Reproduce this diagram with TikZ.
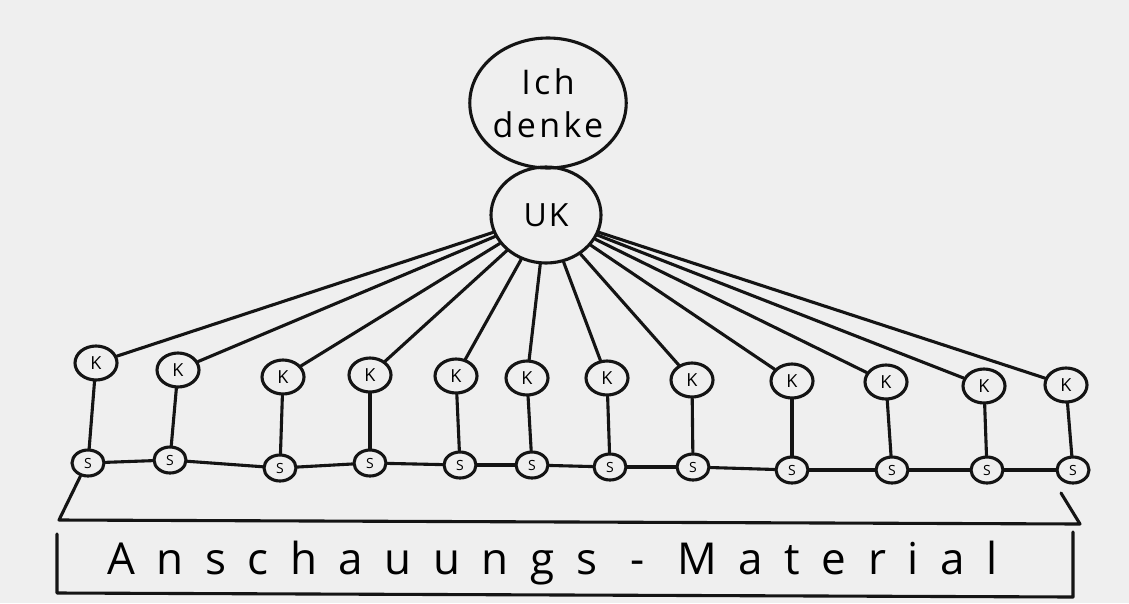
\documentclass[tikz,border=0pt]{standalone}
\usepackage{fontspec}
\setmainfont{Open Sans}
\usetikzlibrary{shapes.geometric}
\definecolor{paper}{RGB}{239,239,239}
\definecolor{ink}{RGB}{20,20,20}
\tikzset{
  ink/.style={draw=ink, line width=3.1pt, line cap=round, line join=round},
  bigoval/.style={ink, ellipse, inner sep=0pt},
  kbox/.style={ink, ellipse, minimum width=42pt, minimum height=34pt, inner sep=0pt, font=\fontsize{18}{18}\selectfont},
  sbox/.style={ink, ellipse, minimum width=32pt, minimum height=26pt, inner sep=0pt, font=\fontsize{14}{14}\selectfont},
  link/.style={ink},
}
\begin{document}
\begin{tikzpicture}[x=1pt,y=-1pt]
\fill[paper] (0,0) rectangle (1129,603);
\useasboundingbox (0,0) rectangle (1129,603);

% top ovals
\node[bigoval, minimum width=152pt, minimum height=130pt, align=center,
  font=\fontsize{34}{43}\selectfont\addfontfeature{LetterSpace=10}] (ich) at (548,103) {Ich\\denke};
\node[bigoval, minimum width=110pt, minimum height=96pt,
  font=\fontsize{32}{32}\selectfont\addfontfeature{LetterSpace=6}] (uk) at (546,215) {UK};

% K nodes
\node[kbox] (k1) at (96,363) {K};
\node[kbox] (k2) at (178,370) {K};
\node[kbox] (k3) at (283,377) {K};
\node[kbox] (k4) at (370,375) {K};
\node[kbox] (k5) at (456,376) {K};
\node[kbox] (k6) at (527,378) {K};
\node[kbox] (k7) at (607,378) {K};
\node[kbox] (k8) at (692,380) {K};
\node[kbox] (k9) at (792,381) {K};
\node[kbox] (k10) at (886,382) {K};
\node[kbox] (k11) at (984,386) {K};
\node[kbox] (k12) at (1066,385) {K};

% S nodes
\node[sbox] (s1) at (88,463) {S};
\node[sbox] (s2) at (170,460) {S};
\node[sbox] (s3) at (280,468) {S};
\node[sbox] (s4) at (370,463) {S};
\node[sbox] (s5) at (460,465) {S};
\node[sbox] (s6) at (532,465) {S};
\node[sbox] (s7) at (610,467) {S};
\node[sbox] (s8) at (693,467) {S};
\node[sbox] (s9) at (792,470) {S};
\node[sbox] (s10) at (892,470) {S};
\node[sbox] (s11) at (987,470) {S};
\node[sbox] (s12) at (1073,470) {S};

% UK to K, K to S
\foreach \i in {1,...,12} {
  \draw[link] (uk) -- (k\i);
  \draw[link] (k\i) -- (s\i);
}
% S chain
\foreach \a/\b in {1/2,2/3,3/4,4/5,5/6,6/7,7/8,8/9,9/10,10/11,11/12} {
  \draw[link] (s\a) -- (s\b);
}

% bracket
\coordinate (bl) at (59,520);
\coordinate (br) at (1080,524);
\coordinate (rt) at (1061,493);
\draw[link] (s1.240) -- (bl) -- (br) -- (rt);

% material box
\coordinate (b1) at (57,534);
\coordinate (b2) at (57,593);
\coordinate (b3) at (1073,597);
\coordinate (b4) at (1073,532);
\draw[link] (b1) -- (b2) -- (b3) -- (b4);
\node[anchor=base west, inner sep=0pt,
  font=\fontsize{44}{44}\selectfont\addfontfeature{LetterSpace=49}] (mat) at (107,574) {Anschauungs - Material};
\end{tikzpicture}
\end{document}
